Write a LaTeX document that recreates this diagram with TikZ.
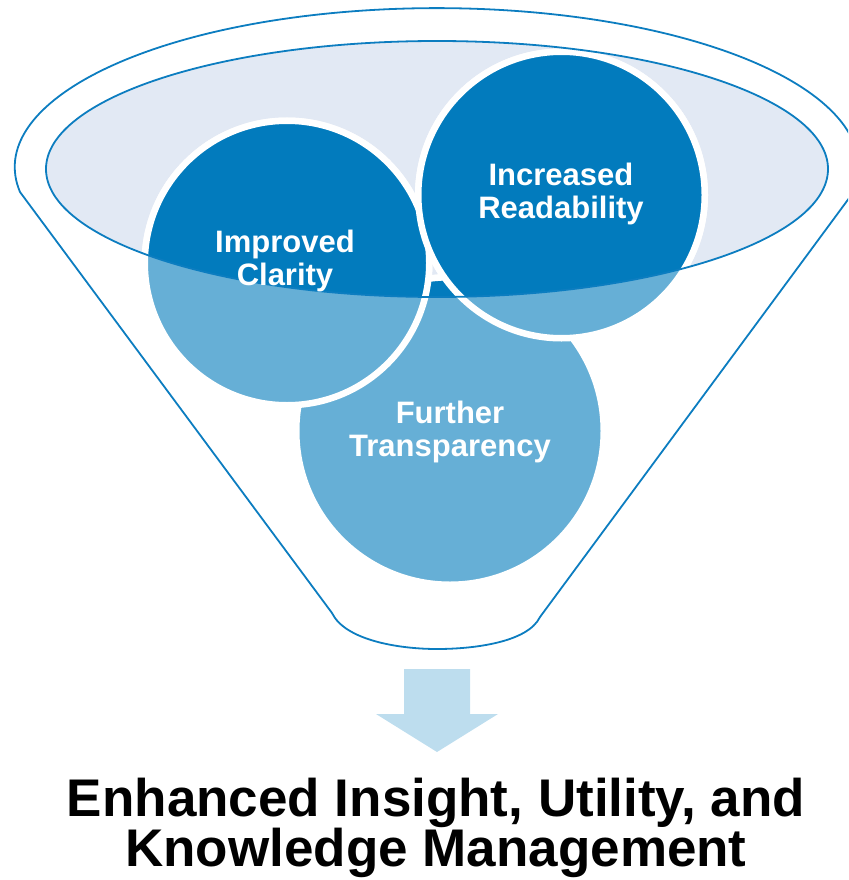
\documentclass[tikz,border=0pt]{standalone}
\usepackage{fontspec}
\setmainfont{Liberation Sans}
\definecolor{funnelblue}{HTML}{0C7DC0}
\definecolor{darkfill}{HTML}{027BBD}
\definecolor{lightfill}{HTML}{66AFD6}
\definecolor{mouthfill}{HTML}{E2E9F4}
\definecolor{arrowfill}{HTML}{BDDDEE}
\tikzset{
  funnelline/.style={draw=funnelblue, line width=1.8pt, line join=round},
  ringwhite/.style={draw=white, line width=6.5pt},
  ctext/.style={text=white, font=\bfseries\fontsize{31}{33}\selectfont, align=center, inner sep=0pt},
  bigtext/.style={text=black, font=\bfseries\fontsize{53}{50}\selectfont, align=center, inner sep=0pt}
}
\begin{document}
\begin{tikzpicture}[x=1pt,y=-1pt]
\useasboundingbox (0,0) rectangle (848,880);
\clip (0,0) rectangle (848,880);
% funnel body
\draw[funnelline] (20,192) arc[start angle=171, end angle=369, x radius=422, y radius=159]
  -- (540,617) .. controls (528,642) and (475,649) .. (437,649)
  .. controls (398,649) and (345,640) .. (332,613) -- cycle;
% mouth
\fill[mouthfill] (437,169) ellipse [x radius=391, y radius=128];
% circles, light part
\fill[lightfill] (450,431) circle [radius=153.75pt];
\draw[ringwhite] (450,431) circle [radius=153.75pt];
\fill[lightfill] (287,263) circle [radius=142.25pt];
\draw[ringwhite] (287,263) circle [radius=142.25pt];
\fill[lightfill] (561.5,195) circle [radius=143.25pt];
\draw[ringwhite] (561.5,195) circle [radius=143.25pt];
% circles, part inside the mouth
\begin{scope}
  \clip (437,169) ellipse [x radius=391, y radius=128];
  \fill[darkfill] (450,431) circle [radius=153.75pt];
  \draw[ringwhite] (450,431) circle [radius=153.75pt];
  \fill[darkfill] (287,263) circle [radius=142.25pt];
  \draw[ringwhite] (287,263) circle [radius=142.25pt];
  \fill[darkfill] (561.5,195) circle [radius=143.25pt];
  \draw[ringwhite] (561.5,195) circle [radius=143.25pt];
\end{scope}
\draw[funnelline] (437,169) ellipse [x radius=391, y radius=128];
% labels
\node[ctext] (readability) at (561,194) {Increased\\Readability};
\node[ctext] (clarity) at (285,261) {Improved\\Clarity};
\node[ctext] (transparency) at (450,432) {Further\\Transparency};
% arrow
\fill[arrowfill] (404,669) -- (470,669) -- (470,714) -- (498,714) -- (437,752)
  -- (376,714) -- (404,714) -- cycle;
\node[bigtext] (result) at (436,828) {Enhanced Insight, Utility, and\\Knowledge Management};
\end{tikzpicture}
\end{document}
